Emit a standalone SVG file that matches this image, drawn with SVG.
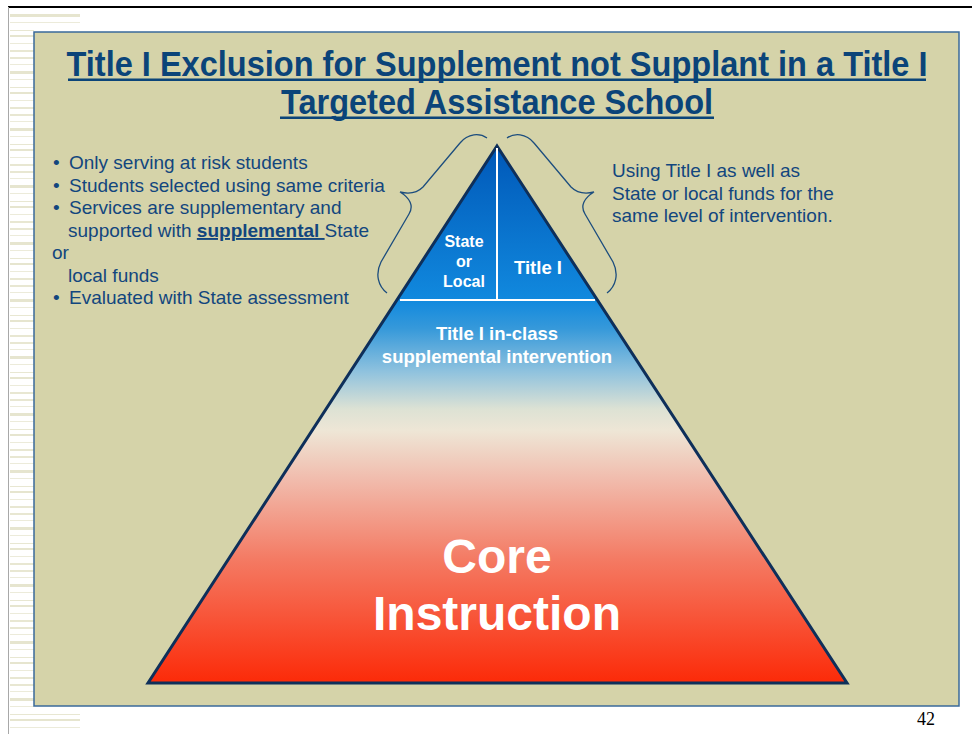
<svg xmlns="http://www.w3.org/2000/svg" width="972" height="734" viewBox="0 0 972 734">
<defs>
<pattern id="stripes" x="0" y="0" width="80" height="57" patternUnits="userSpaceOnUse">
<rect x="0" y="0" width="80" height="2" fill="#e8e7d2"/>
<rect x="0" y="7" width="80" height="1" fill="#ecebda"/>
<rect x="0" y="14" width="80" height="3" fill="#e6e5cf"/>
<rect x="0" y="22" width="80" height="1" fill="#ecebda"/>
<rect x="0" y="30" width="80" height="1" fill="#e8e7d2"/>
<rect x="0" y="35" width="80" height="2" fill="#e6e5cf"/>
<rect x="0" y="43" width="80" height="1" fill="#ecebda"/>
<rect x="0" y="50" width="80" height="2" fill="#e8e7d2"/>
</pattern>
<linearGradient id="pyr" gradientUnits="userSpaceOnUse" x1="0" y1="146" x2="0" y2="683">
<stop offset="0" stop-color="#0058b8"/>
<stop offset="0.287" stop-color="#1189de"/>
<stop offset="0.34" stop-color="#3699da"/>
<stop offset="0.42" stop-color="#8fc2de"/>
<stop offset="0.49" stop-color="#dde2d4"/>
<stop offset="0.53" stop-color="#eee6d6"/>
<stop offset="0.62" stop-color="#f1bcad"/>
<stop offset="0.77" stop-color="#f47a63"/>
<stop offset="1" stop-color="#fc2a08"/>
</linearGradient>
</defs>
<style>
.t{font-family:"Liberation Sans",Arial,sans-serif;fill:#12467e;font-size:19px}
.ttl{font-family:"Liberation Sans",Arial,sans-serif;fill:#0b4479;font-size:35px;font-weight:bold;text-anchor:middle}
.w{font-family:"Liberation Sans",Arial,sans-serif;fill:#ffffff;font-weight:bold;text-anchor:middle}
.brace{fill:none;stroke:#1c4d7e;stroke-width:1.3}
</style>
<rect x="0" y="0" width="972" height="734" fill="#ffffff"/>
<g id="page-decor">
<rect x="10" y="8" width="70" height="22" fill="url(#stripes)"/>
<rect x="10" y="30" width="24" height="680" fill="url(#stripes)"/>
<rect x="10" y="708" width="70" height="20" fill="url(#stripes)"/>
<line x1="8" y1="7" x2="972" y2="7" stroke="#000000" stroke-width="2"/>
<line x1="8.5" y1="7" x2="8.5" y2="734" stroke="#a8a8a8" stroke-width="1"/>
</g>
<g id="panel">
<rect x="34" y="32" width="925" height="674" fill="#d5d3a9" stroke="#3a6a9a" stroke-width="1.5"/>
</g>
<g id="title">
<text class="ttl" transform="translate(497,76) scale(0.93,1)" x="0" y="0">Title I Exclusion for Supplement not Supplant in a Title I</text>
<text class="ttl" transform="translate(497,114) scale(0.93,1)" x="0" y="0">Targeted Assistance School</text>
<rect x="68" y="78.5" width="858" height="2.5" fill="#0b4479"/>
<rect x="280" y="116.5" width="434" height="2.5" fill="#0b4479"/>
</g>
<g id="left-list">
<text class="t" x="53" y="169">•</text><text class="t" x="69" y="169">Only serving at risk students</text>
<text class="t" x="53" y="192">•</text><text class="t" x="69" y="192">Students selected using same criteria</text>
<text class="t" x="53" y="214">•</text><text class="t" x="69" y="214">Services are supplementary and</text>
<text class="t" x="68" y="237">supported with <tspan font-weight="bold" text-decoration="underline">supplemental </tspan>State</text>
<text class="t" x="52" y="259">or</text>
<text class="t" x="68" y="282">local funds</text>
<text class="t" x="53" y="304">•</text><text class="t" x="69" y="304">Evaluated with State assessment</text>
</g>
<g id="right-text">
<text class="t" x="612" y="177">Using Title I as well as</text>
<text class="t" x="612" y="199.5">State or local funds for the</text>
<text class="t" x="612" y="222">same level of intervention.</text>
</g>
<g id="pyramid">
<polygon points="497,146 847,683 148,683" fill="url(#pyr)" stroke="#0e2f5a" stroke-width="3" stroke-linejoin="miter"/>
<line x1="400" y1="300" x2="595" y2="300" stroke="#ffffff" stroke-width="2"/>
<line x1="497" y1="148" x2="497" y2="300" stroke="#ffffff" stroke-width="2"/>
<text class="w" x="464" y="247" font-size="16">State</text>
<text class="w" x="464" y="267" font-size="16">or</text>
<text class="w" x="464" y="287" font-size="16">Local</text>
<text class="w" x="538" y="274" font-size="18.5">Title I</text>
<text class="w" x="497" y="340" font-size="18.5">Title I in-class</text>
<text class="w" x="497" y="363" font-size="18.5">supplemental intervention</text>
<text class="w" x="497" y="573" font-size="48">Core</text>
<text class="w" x="497" y="630" font-size="48">Instruction</text>
</g>
<g id="connectors">
<path class="brace" d="M 487,138 C 480,133 468,133 460,143 L 423,187 C 416,194 408,194 400,192 C 410,198 414,206 409,214 L 381,262 C 375,274 378,286 387,293"/>
<path class="brace" d="M 507,138 C 514,133 526,133 534,143 L 571,187 C 578,194 586,194 594,192 C 584,198 580,206 585,214 L 613,262 C 619,274 616,286 607,293"/>
</g>
<g id="page-number">
<text x="935" y="725" font-family="Liberation Serif, Times New Roman, serif" font-size="18" text-anchor="end" fill="#000000">42</text>
</g>
</svg>
